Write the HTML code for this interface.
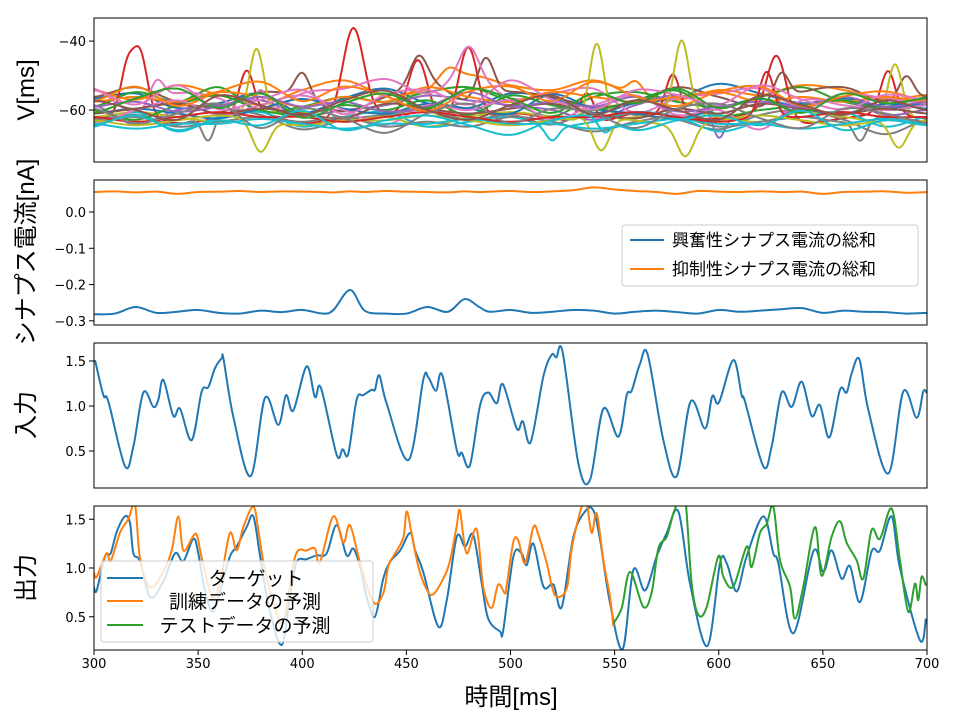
<!DOCTYPE html>
<html><head><meta charset="utf-8">
<style>
html,body{margin:0;padding:0;background:#fff;}
svg{display:block;font-family:"Liberation Sans","Noto Sans CJK JP",sans-serif;}
.tick{font-family:"DejaVu Sans","Liberation Sans",sans-serif;}
</style></head>
<body>
<svg id="chart" width="960" height="720" viewBox="0 0 960 720"></svg>
<script>
// ---------- data ----------
const inputT=[300.5,304.5,306.9,314.9,318.9,323.7,328.5,330.9,333.3,338.1,341.3,346.9,351.7,354.9,358.1,361.3,362.2,366.9,375.2,382.1,388.5,392.2,395.7,402.1,406.1,409,416.5,419.4,422.1,426.1,429.3,433.3,434.9,437,440.5,451,458.1,460.5,464.2,467.3,474.2,476.6,480.5,485.4,489.3,493.4,496.4,503,505.9,509.7,515.8,519.8,522,525.1,532.6,538.2,544.6,551.8,555.8,558.2,562.2,565.9,573.4,579.8,586.5,593.4,596.9,600.1,607,611,612.6,621.4,625.4,630.2,635,639.8,644.6,648.6,653.1,658.2,661.4,663.8,667.5,671.8,681.4,688.6,695,698.2,699.8];
const inputV=[1.51,1.12,1.05,0.33,0.55,1.15,0.99,1.07,1.29,0.89,0.97,0.62,1.16,1.21,1.42,1.53,1.52,0.88,0.22,1.09,0.79,1.12,0.95,1.44,1.10,1.20,0.46,0.52,0.47,1.07,1.12,1.18,1.18,1.34,1.03,0.40,1.29,1.32,1.17,1.34,0.51,0.48,0.34,1.01,1.15,1.03,1.24,0.75,0.83,0.60,1.33,1.57,1.54,1.59,0.36,0.18,0.97,0.66,1.12,1.17,1.47,1.57,0.62,0.22,1.05,0.75,1.11,1.04,1.51,1.12,1.05,0.33,0.55,1.15,0.99,1.27,0.89,1.01,0.65,1.18,1.15,1.36,1.52,0.96,0.25,1.16,0.87,1.16,1.15];

const targetT=[300,301.3,305.3,308,310.9,314.9,317.3,318.9,322.1,327,333,338.9,342.9,347.7,350.1,353,357,361,365.3,368.5,373.3,376.5,379.7,384,390.1,394,397.3,402,406.9,411.7,416.5,421.3,424.5,427.7,431,434.9,438.9,442.1,447,451.8,454.2,458.1,465.3,469.4,474.2,478.2,482.1,486.2,489.3,494.9,496.5,501.4,505.3,507.8,511,515.8,520.6,524.6,530.2,535.8,539.8,543,547.8,553.9,559,564.6,570.2,575,580.6,586.2,594.5,600.6,603.8,608.6,613.4,621.4,626.2,628.6,635.8,645.4,650.2,654.2,659,663,667.8,673.4,677.4,683,687,696.6,699.5];
const targetV=[0.80,0.77,1.12,1.15,1.37,1.53,1.46,1.15,1.07,0.70,0.85,1.15,1.07,1.30,1.15,0.80,0.55,0.80,1.12,1.22,1.42,1.53,1.13,0.60,0.21,0.70,1.06,1.09,1.13,1.15,1.44,1.13,1.20,1.02,0.70,0.50,0.89,1.06,1.18,1.36,1.18,0.96,0.40,0.67,1.32,1.22,1.34,0.84,0.48,0.35,0.36,1.12,1.15,1.03,1.25,0.81,0.83,0.60,1.32,1.58,1.59,1.29,0.64,0.17,0.98,0.77,1.12,1.36,1.58,0.84,0.20,1.05,1.05,0.76,1.12,1.53,1.15,1.05,0.33,1.17,0.96,1.18,0.89,1.02,0.65,1.17,1.18,1.53,1.00,0.26,0.48];

const trainT=[300,301.3,306,308,312.6,316.5,319.7,322.1,327,333,337.3,340.5,342.9,347.7,349.5,352,357,361,365.3,368.5,371.7,376.5,378.9,381.3,386,391,396.6,402.2,406.1,408.5,414.9,419.7,422.9,427.7,434.1,438.9,441.3,443.7,448.5,450.1,452.5,455.7,459.7,462.9,467.7,470.9,474.1,475.7,478.9,483.7,486.9,490.9,494.1,497.3,498.1,501.4,503.8,507,511,513.4,517.4,521.4,527,529.4,534.2,536.6,539,541.4,544.6,547.8,549.4];
const trainV=[0.95,0.91,1.15,1.07,1.37,1.50,1.65,1.10,0.80,0.95,1.18,1.53,1.18,1.33,1.33,1.08,0.70,0.90,1.36,1.18,1.42,1.63,1.39,1.07,0.65,0.45,1.12,1.18,1.20,1.06,1.53,1.26,1.44,1.06,0.65,0.74,1.02,1.12,1.31,1.58,1.36,1.02,0.78,0.73,0.89,1.07,1.42,1.59,1.15,1.40,0.81,0.59,0.83,0.74,0.81,1.27,1.28,1.05,1.42,1.34,1.05,0.72,0.79,1.20,1.63,1.66,1.36,1.56,1.08,0.70,0.40];

const testT=[549.4,553.4,557.4,563.8,567.8,571,575,578.2,581.4,584,587,590.2,594.2,599.8,602.2,607,613.4,615.8,619.8,623,626.2,629.4,634.2,636.6,640.6,646.2,649.4,654.2,658.2,661.4,666.2,669.4,673.4,677.4,683,687,691,694.2,695.8,697.4,699.5];
const testV=[0.43,0.59,0.96,0.60,0.75,1.20,1.32,1.56,1.72,1.70,0.84,0.52,0.60,1.12,0.91,0.81,1.22,1.01,1.36,1.45,1.63,1.08,0.81,0.48,0.81,1.42,0.92,1.32,1.48,1.26,1.08,0.89,1.39,1.30,1.61,1.08,0.55,0.84,0.67,0.91,0.82];

const curT=[300,310,320,330,340,350,360,370,380,390,400,410,415,423,430,440,450,460,470,478,485,490,500,510,520,530,540,550,560,570,580,590,600,610,620,630,640,650,660,670,680,690,700];
const excV=[-0.282,-0.28,-0.262,-0.278,-0.275,-0.27,-0.278,-0.28,-0.272,-0.276,-0.27,-0.28,-0.27,-0.215,-0.272,-0.28,-0.28,-0.262,-0.275,-0.24,-0.262,-0.275,-0.27,-0.278,-0.275,-0.27,-0.272,-0.28,-0.275,-0.272,-0.276,-0.28,-0.27,-0.275,-0.272,-0.268,-0.265,-0.278,-0.272,-0.275,-0.276,-0.28,-0.278];
const inhV=[0.055,0.057,0.054,0.056,0.05,0.055,0.056,0.058,0.055,0.057,0.056,0.055,0.054,0.057,0.055,0.058,0.056,0.055,0.054,0.057,0.055,0.056,0.058,0.055,0.057,0.06,0.068,0.062,0.058,0.055,0.05,0.058,0.056,0.055,0.057,0.055,0.056,0.05,0.055,0.056,0.057,0.053,0.055];

// membrane potential traces: baseline + wiggle samples every 20 ms (offsets, mV)
const vColors=['#1f77b4','#ff7f0e','#2ca02c','#d62728','#9467bd','#8c564b','#e377c2','#7f7f7f','#bcbd22','#17becf','#1f77b4','#ff7f0e','#2ca02c','#e377c2','#8c564b','#7f7f7f','#bcbd22','#17becf','#9467bd','#d62728','#ff7f0e','#e377c2','#2ca02c','#7f7f7f','#17becf','#8c564b'];
const vBase=[-58,-57,-59,-61,-60,-59,-58,-60,-62,-62,-61,-59,-60,-60,-61,-62,-63,-64,-59,-62,-56,-57,-58,-61,-63,-60];
const vWig=[
[1,2,-1,0,2,-2,1,3,0,-1,2,1,-2,0,1,4,2,0,1,-1,0],
[2,0,3,1,-1,2,4,1,2,5,3,2,4,1,0,2,1,3,2,0,1],
[0,3,1,4,-1,0,2,1,3,4,1,-2,2,3,1,0,2,4,1,0,2],
[-1,0,-2,-1,0,-2,-1,0,-1,-2,0,-1,-2,0,-1,-1,0,-2,-1,0,-1],
[1,-3,0,1,2,-1,0,1,3,2,1,0,-2,1,3,0,-3,1,2,-1,0],
[2,4,1,0,3,2,-1,2,5,1,3,2,0,1,4,2,0,3,4,1,2],
[3,-2,2,1,-3,2,3,5,2,6,1,2,3,-2,1,2,3,-1,2,1,0],
[-2,-1,-3,0,-1,-4,-2,-1,0,-2,-1,-3,0,-1,-2,-4,-1,0,-2,-5,-2],
[0,1,0,-1,0,1,-1,0,-2,0,1,0,-1,0,1,0,-1,1,0,-1,0],
[-2,1,-3,0,1,-2,0,1,-2,-1,0,-2,-1,1,0,-3,-1,0,1,-2,0],
[0,1,0,-1,1,3,1,0,2,1,0,4,1,0,-1,1,3,1,0,2,1],
[1,2,1,3,2,0,2,1,4,2,1,3,2,1,2,3,1,2,1,2,1],
[0,-2,1,3,0,-1,1,0,2,-1,3,1,0,2,4,-1,0,1,2,0,1],
[-3,0,2,-1,1,3,0,-3,1,0,2,-2,1,3,-1,0,-4,2,1,0,1],
[0,1,2,0,1,0,-1,2,1,0,1,2,0,-1,1,0,2,1,0,1,0],
[-1,0,-2,-1,0,-1,0,-2,-1,-2,0,-1,-3,-1,0,-2,-1,0,-1,0,-1],
[0,-1,0,1,0,-1,0,0,1,0,-1,0,1,0,-1,0,1,0,-1,0,0],
[0,-1,0,0,1,0,-1,0,0,1,0,0,-1,0,1,0,0,-1,0,1,0],
[0,1,-1,0,2,0,1,-1,0,3,0,1,0,2,-1,0,1,0,2,0,1],
[0,-1,0,1,0,0,-1,0,1,0,-1,0,0,1,0,-1,0,0,1,0,0],
[-1,2,-2,1,3,-1,2,0,-3,1,2,-1,3,0,-2,1,2,-2,0,1,-1],
[2,-1,3,-2,0,2,-3,1,2,-1,4,0,-2,2,1,-1,3,0,-2,1,0],
[-2,1,3,-1,2,-3,0,2,-1,3,1,-2,2,0,3,-1,1,-2,2,0,1],
[1,-2,0,2,-3,1,-1,-4,0,2,-2,1,0,-3,1,2,-1,-3,1,0,-2],
[-1,1,-2,0,-1,2,-2,0,1,-1,-3,0,1,-2,0,1,-1,2,-2,0,-1],
[2,0,-2,3,1,-1,2,4,0,-2,1,3,-1,2,0,-2,3,1,-1,2,0]
];
// events: trace index, time (ms), peak (mV), width (ms)
const evTrace=[3,3,3,3,3,3,3,3,3,3,8,16,8,16,8,16,8,16,5,5,6,1,5,6,5,19,5,1,6,7,9,4,15,24];
const evT=[315.7,322,373.3,424.5,455.6,479.7,536.6,578,627.8,681.3,378,380,541.4,543.5,582.2,584,684.6,686.5,456,488,480,470,400,330,630,623,690,560,380,355,520,600,668,545];
const evPeak=[-48.7,-43.3,-48.4,-35.2,-44.5,-39,-52.3,-48.4,-43.3,-48.7,-42.1,-72.1,-39.4,-73,-41.2,-72.1,-45.5,-71,-51,-47,-50,-53,-52,-51,-51,-49,-52,-53,-50,-68,-66,-68,-68,-67];
const evW=[3,3.5,3.5,5,4.5,4.5,3.5,3.5,4.5,3.5,3.5,4,3.5,4,3.5,4,3.5,4,4,4,4.5,4.5,3.5,3.5,3.5,3.5,3.5,3.5,3.5,3,3,3,3,3];

// tick labels
const xTicks=[300,350,400,450,500,550,600,650,700];
const p1Ticks=[-40,-60];
const p2Ticks=[0.0,-0.1,-0.2,-0.3];
const p3Ticks=[1.5,1.0,0.5];
const p4Ticks=[1.5,1.0,0.5];

// ---------- layout ----------
const L=94,R=927;
const panels=[{top:18,bot:162,y0:-75.07,y1:-33.3},{top:180,bot:325,y0:-0.3115,y1:0.0882},{top:343,bot:488,y0:0.089,y1:1.70},{top:506,bot:650,y0:0.159,y1:1.636}];
const NS='http://www.w3.org/2000/svg';
const svg=document.getElementById('chart');
function mk(tag,attrs,parent){const e=document.createElementNS(NS,tag);for(const k in attrs)e.setAttribute(k,attrs[k]);(parent||svg).appendChild(e);return e;}
const xs=t=>L+(t-300)*(R-L)/400;
function ys(p,v){const P=panels[p];return P.bot-(v-P.y0)*(P.bot-P.top)/(P.y1-P.y0);}
function smoothPath(T,V,p){
  const pts=T.map((t,i)=>[xs(t),ys(p,V[i])]);
  let d='M'+pts[0][0].toFixed(2)+','+pts[0][1].toFixed(2);
  for(let i=0;i<pts.length-1;i++){
    const p0=pts[Math.max(0,i-1)],p1=pts[i],p2=pts[i+1],p3=pts[Math.min(pts.length-1,i+2)];
    const c1=[p1[0]+(p2[0]-p0[0])/6,p1[1]+(p2[1]-p0[1])/6],c2=[p2[0]-(p3[0]-p1[0])/6,p2[1]-(p3[1]-p1[1])/6];
    d+='C'+c1[0].toFixed(2)+','+c1[1].toFixed(2)+' '+c2[0].toFixed(2)+','+c2[1].toFixed(2)+' '+p2[0].toFixed(2)+','+p2[1].toFixed(2);
  }
  return d;
}
const defs=mk('defs',{});
panels.forEach((P,i)=>{const cp=mk('clipPath',{id:'clip'+i},defs);mk('rect',{x:L,y:P.top,width:R-L,height:P.bot-P.top},cp);});

const groups=panels.map((P,i)=>{
  const g=mk('g',{'clip-path':'url(#clip'+i+')'});
  
  
  return g;
});

// panel 1 traces (wiggle samples interpolated with cubic spline, slightly amplified)
const wScale=1.4;
for(let k=0;k<vBase.length;k++){
  const T=[],V=[];
  for(let t=300;t<=700;t+=1){
    const f=(t-300)/20,i0=Math.min(19,Math.floor(f)),fr=f-i0;
    const w=vWig[k];
    const a=w[Math.max(0,i0-1)],b=w[i0],c=w[i0+1],d=w[Math.min(20,i0+2)];
    const cr=0.5*((2*b)+(-a+c)*fr+(2*a-5*b+4*c-d)*fr*fr+(-a+3*b-3*c+d)*fr*fr*fr);
    let v=vBase[k]+cr*wScale;
    for(let e=0;e<evT.length;e++){ if(evTrace[e]!==k)continue;
      const dt=t-evT[e];v+=(evPeak[e]-vBase[k])*Math.exp(-dt*dt/(2*evW[e]*evW[e]));}
    T.push(t);V.push(v);
  }
  const path=mk('path',{d:smoothPath(T,V,0),fill:'none',stroke:vColors[k],'stroke-width':2},groups[0]);
  
  
}
// panel 2
let pe=mk('path',{d:smoothPath(curT,excV,1),fill:'none',stroke:'#1f77b4','stroke-width':2},groups[1]);


let pi=mk('path',{d:smoothPath(curT,inhV,1),fill:'none',stroke:'#ff7f0e','stroke-width':2},groups[1]);


// panel 3
let pin=mk('path',{d:smoothPath(inputT,inputV,2),fill:'none',stroke:'#1f77b4','stroke-width':2},groups[2]);


// panel 4
let ptg=mk('path',{d:smoothPath(targetT,targetV,3),fill:'none',stroke:'#1f77b4','stroke-width':2},groups[3]);


let ptr=mk('path',{d:smoothPath(trainT,trainV,3),fill:'none',stroke:'#ff7f0e','stroke-width':2},groups[3]);


let pts=mk('path',{d:smoothPath(testT,testV,3),fill:'none',stroke:'#2ca02c','stroke-width':2},groups[3]);



// frames + y ticks
const yTickSets=[p1Ticks,p2Ticks,p3Ticks,p4Ticks];
panels.forEach((P,i)=>{
  const fr=mk('rect',{x:L,y:P.top,width:R-L,height:P.bot-P.top,fill:'none',stroke:'#000','stroke-width':1});
  
  
  yTickSets[i].forEach(v=>{
    const y=ys(i,v);
    mk('line',{x1:L-5,x2:L,y1:y,y2:y,stroke:'#000','stroke-width':1});
    const lab=i===0?String(v).replace('-','−'):(i===1?v.toFixed(1).replace('-','−'):v.toFixed(1));
    const tx=mk('text',{x:L-8,y:y+5,'text-anchor':'end','font-size':13,fill:'#000','class':'tick'});
    tx.textContent=lab;
    
    
  });
});
xTicks.forEach(t=>{
  const x=xs(t);
  mk('line',{x1:x,x2:x,y1:650,y2:655,stroke:'#000','stroke-width':1});
  const tx=mk('text',{x:x,y:668,'text-anchor':'middle','font-size':13,fill:'#000','class':'tick'});
  tx.textContent=t;
  
  
});
</script>
<script>
(function(){
const NS='http://www.w3.org/2000/svg',svg=document.getElementById('chart');
function t(x,y,s,size,name,rot,anchor){const e=document.createElementNS(NS,'text');e.setAttribute('x',x);e.setAttribute('y',y);e.setAttribute('font-size',size);e.setAttribute('text-anchor',anchor||'middle');if(rot)e.setAttribute('transform','rotate(-90 '+x+' '+y+')');e.textContent=s;


svg.appendChild(e);return e;}
t(34,90,'V[ms]',24,'panel-1-y-axis-title',true);
t(34,252,'シナプス電流[nA]',24,'panel-2-y-axis-title',true);
t(34,415,'入力',24,'panel-3-y-axis-title',true);
t(34,578,'出力',24,'panel-4-y-axis-title',true);
t(511,705,'時間[ms]',24,'x-axis-title');
function box(x,y,w,h,name){const r=document.createElementNS(NS,'rect');r.setAttribute('x',x);r.setAttribute('y',y);r.setAttribute('width',w);r.setAttribute('height',h);r.setAttribute('rx',3);r.setAttribute('fill','rgba(255,255,255,0.8)');r.setAttribute('stroke','#ccc');


svg.appendChild(r);}
function ln(x1,x2,y,c){const l=document.createElementNS(NS,'line');l.setAttribute('x1',x1);l.setAttribute('x2',x2);l.setAttribute('y1',y);l.setAttribute('y2',y);l.setAttribute('stroke',c);l.setAttribute('stroke-width',2);


svg.appendChild(l);}
box(622,225,296,61,'current-legend');
ln(630,664,240,'#1f77b4');ln(630,664,269,'#ff7f0e');
t(672,246,'興奮性シナプス電流の総和',17,'legend-entry-excitatory',false,'start');
t(672,275,'抑制性シナプス電流の総和',17,'legend-entry-inhibitory',false,'start');
box(101,561,272,81,'output-legend');
ln(107,143,578,'#1f77b4');ln(107,143,601,'#ff7f0e');ln(107,143,625,'#2ca02c');
t(256,585,'ターゲット',19,'legend-entry-target');
t(245,608,'訓練データの予測',19,'legend-entry-train');
t(245,632,'テストデータの予測',19,'legend-entry-test');
})();
</script>
</body></html>
